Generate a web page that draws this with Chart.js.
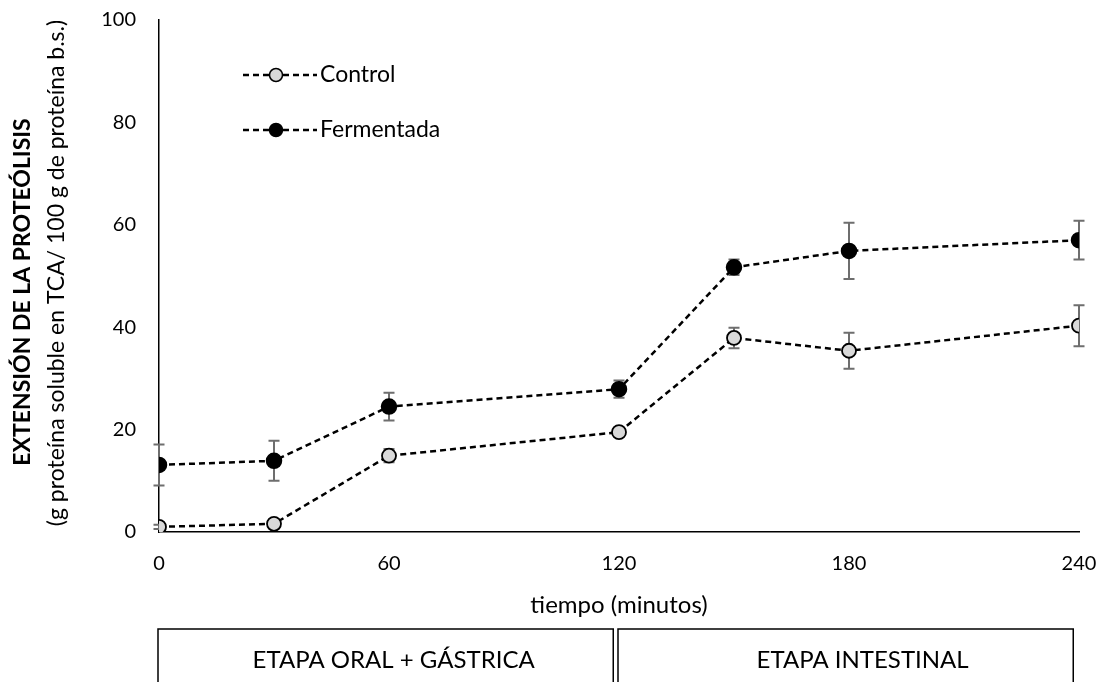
<!DOCTYPE html>
<html>
<head>
<meta charset="utf-8">
<script src="https://cdn.jsdelivr.net/npm/chart.js@4.4.1/dist/chart.umd.min.js"></script>
<style>
  body { margin: 0; background: #fff; }
</style>
</head>
<body>
<canvas id="proteolisis" width="1104" height="682"></canvas>
<script>
// datos
const tiempos = [0, 30, 60, 120, 150, 180, 240];
const control = [1.0, 1.6, 14.9, 19.5, 37.9, 35.4, 40.3];
const controlErr = [0.4, 0.4, 1.3, 0.5, 2.0, 3.5, 4.0];
const fermentada = [13.1, 13.9, 24.5, 27.9, 51.7, 54.9, 57.0];
const fermentadaErr = [4.0, 3.9, 2.7, 1.7, 1.5, 5.5, 3.8];
const xTicks = [0, 60, 120, 180, 240];
const yTicks = [0, 20, 40, 60, 80, 100];
const etapas = ['ETAPA ORAL + GÁSTRICA', 'ETAPA INTESTINAL'];
const etapaRangos = [[0, 118.5], [120, 238.5]];

const FONT = 'Lato, "Open Sans", sans-serif';

// barras de error (desviacion) detras de los puntos
const errorBars = {
  id: 'errorBars',
  beforeDatasetsDraw(chart) {
    const ctx = chart.ctx;
    const xs = chart.scales.x, ys = chart.scales.y;
    ctx.save();
    ctx.strokeStyle = '#6e6e6e';
    ctx.lineWidth = 2;
    chart.data.datasets.forEach(ds => {
      ds.data.forEach((p, i) => {
        const e = ds.errores[i];
        const x = xs.getPixelForValue(p.x);
        const y1 = ys.getPixelForValue(p.y + e);
        const y2 = ys.getPixelForValue(p.y - e);
        ctx.beginPath();
        ctx.moveTo(x, y1); ctx.lineTo(x, y2);
        ctx.moveTo(x - 5.5, y1); ctx.lineTo(x + 5.5, y1);
        ctx.moveTo(x - 5.5, y2); ctx.lineTo(x + 5.5, y2);
        ctx.stroke();
      });
    });
    ctx.restore();
  }
};

// leyenda, titulo del eje y y cajas de etapas
const extras = {
  id: 'extras',
  afterDraw(chart) {
    const ctx = chart.ctx;
    const xs = chart.scales.x;
    ctx.save();

    // leyenda
    chart.data.datasets.forEach((ds, i) => {
      const y = 75 + i * 55;
      ctx.setLineDash([6, 4]);
      ctx.strokeStyle = '#000';
      ctx.lineWidth = 2.5;
      ctx.beginPath();
      ctx.moveTo(243, y); ctx.lineTo(317, y);
      ctx.stroke();
      ctx.setLineDash([]);
      ctx.beginPath();
      ctx.arc(276, y, 6.5, 0, Math.PI * 2);
      ctx.fillStyle = ds.pointBackgroundColor;
      ctx.fill();
      ctx.lineWidth = 1.5;
      ctx.stroke();
      ctx.fillStyle = '#000';
      ctx.font = '23px ' + FONT;
      ctx.textAlign = 'left';
      ctx.textBaseline = 'middle';
      ctx.fillText(ds.label, 320, y);
    });

    // titulo eje y
    ctx.textAlign = 'center';
    ctx.textBaseline = 'middle';
    ctx.save();
    ctx.translate(23, 292);
    ctx.rotate(-Math.PI / 2);
    ctx.font = 'bold 23px ' + FONT;
    ctx.fillText('EXTENSIÓN DE LA PROTEÓLISIS', 0, 0);
    ctx.restore();
    ctx.save();
    ctx.translate(57, 273);
    ctx.rotate(-Math.PI / 2);
    ctx.font = '23px ' + FONT;
    ctx.fillText('(g proteína soluble en TCA/ 100 g de proteína b.s.)', 0, 0);
    ctx.restore();

    // cajas de etapas
    ctx.strokeStyle = '#000';
    ctx.lineWidth = 1.5;
    ctx.font = '24px ' + FONT;
    const offs = [8, 17];
    etapas.forEach((t, i) => {
      const a = xs.getPixelForValue(etapaRangos[i][0]) - 1;
      const b = xs.getPixelForValue(etapaRangos[i][1]);
      ctx.strokeRect(a, 629, b - a, 80);
      ctx.fillText(t, (a + b) / 2 + offs[i], 660);
    });
    ctx.restore();
  }
};

const ctx = document.getElementById('proteolisis').getContext('2d');
new Chart(ctx, {
  type: 'line',
  data: {
    datasets: [{
      label: 'Control',
      data: tiempos.map((t, i) => ({ x: t, y: control[i] })),
      errores: controlErr,
      borderColor: '#000',
      borderWidth: 2.5,
      borderDash: [6, 4],
      pointRadius: 7,
      pointBorderWidth: 1.8,
      pointBackgroundColor: '#d9d9d9',
      pointBorderColor: '#000',
      tension: 0
    }, {
      label: 'Fermentada',
      data: tiempos.map((t, i) => ({ x: t, y: fermentada[i] })),
      errores: fermentadaErr,
      borderColor: '#000',
      borderWidth: 2.5,
      borderDash: [6, 4],
      pointRadius: 7.5,
      pointBorderWidth: 1.5,
      pointBackgroundColor: '#000',
      pointBorderColor: '#000',
      tension: 0
    }]
  },
  options: {
    responsive: false,
    animation: false,
    layout: { padding: { left: 0, right: 25, top: 20, bottom: 0 } },
    plugins: {
      legend: { display: false },
      tooltip: { enabled: false }
    },
    scales: {
      x: {
        type: 'linear',
        min: 0,
        max: 240,
        afterBuildTicks: s => { s.ticks = xTicks.map(v => ({ value: v })); },
        afterFit: s => { s.height = 150; s.paddingLeft = 0; s.paddingRight = 0; },
        grid: { display: false, drawTicks: false },
        border: { color: '#000', width: 1.5 },
        ticks: { color: '#000', padding: 20, font: { family: FONT, size: 20 } },
        title: {
          display: true,
          text: 'tiempo (minutos)',
          color: '#000',
          font: { family: FONT, size: 24 },
          padding: { top: 0, bottom: 62 }
        }
      },
      y: {
        min: 0,
        max: 100,
        afterBuildTicks: s => { s.ticks = yTicks.map(v => ({ value: v })); },
        afterFit: s => { s.width = 159; s.paddingTop = 0; s.paddingBottom = 0; },
        grid: { display: false, drawTicks: false },
        border: { color: '#000', width: 1.5 },
        ticks: { color: '#000', padding: 23, font: { family: FONT, size: 20 } }
      }
    }
  },
  plugins: [errorBars, extras]
});
</script>
</body>
</html>
